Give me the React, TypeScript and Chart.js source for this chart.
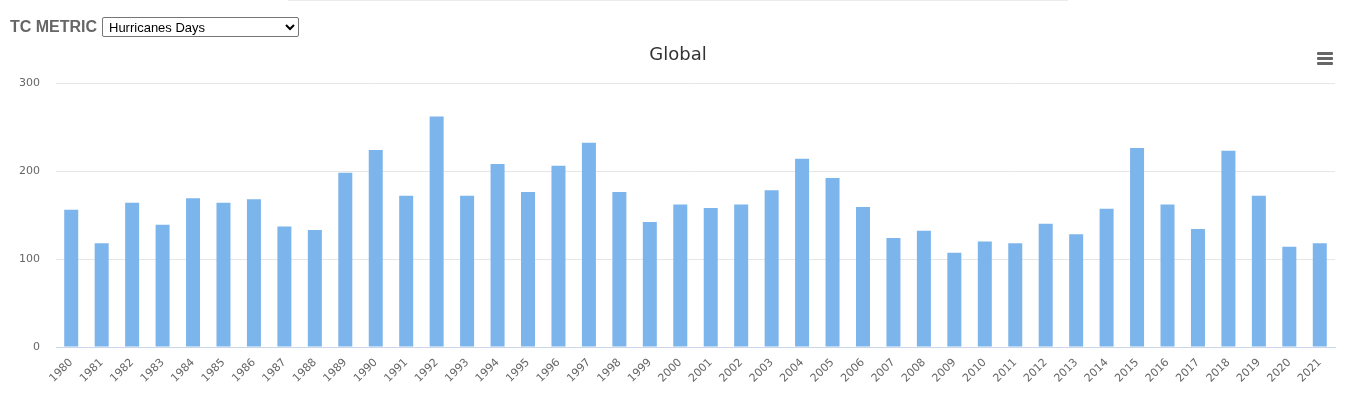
import React, { useEffect, useRef } from "react";
import { Chart, registerables } from "chart.js";

Chart.register(...registerables);

const years: string[] = [
  "1980","1981","1982","1983","1984","1985","1986","1987","1988","1989",
  "1990","1991","1992","1993","1994","1995","1996","1997","1998","1999",
  "2000","2001","2002","2003","2004","2005","2006","2007","2008","2009",
  "2010","2011","2012","2013","2014","2015","2016","2017","2018","2019",
  "2020","2021",
];

const hurricaneDays: number[] = [
  156, 118, 164, 139, 169, 164, 168, 137, 133, 198,
  224, 172, 262, 172, 208, 176, 206, 232, 176, 142,
  162, 158, 162, 178, 214, 192, 159, 124, 132, 107,
  120, 118, 140, 128, 157, 226, 162, 134, 223, 172,
  114, 118,
];

const yTicks: number[] = [0, 100, 200, 300];

const chartTitle = "Global";

export default function App() {
  const ref = useRef<HTMLCanvasElement | null>(null);

  useEffect(() => {
    document.body.style.margin = "0";
    const ctx = ref.current!;
    const font = "'DejaVu Sans', Verdana, sans-serif";
    const chart = new Chart(ctx, {
      type: "bar",
      data: {
        labels: years,
        datasets: [
          {
            label: chartTitle,
            data: hurricaneDays,
            backgroundColor: "#7cb5ec",
            borderWidth: 0,
            barPercentage: 0.46,
            categoryPercentage: 1,
          },
        ],
      },
      options: {
        animation: false,
        responsive: false,
        maintainAspectRatio: false,
        layout: { padding: { left: 0, right: 14, top: 83, bottom: 0 } },
        plugins: {
          legend: { display: false },
          tooltip: { enabled: false },
          title: { display: false },
        },
        scales: {
          x: {
            grid: { display: false, drawTicks: false },
            border: { display: true, color: "#ccd6eb", width: 1 },
            ticks: {
              color: "#666666",
              font: { family: font, size: 11 },
              minRotation: 45,
              maxRotation: 45,
              autoSkip: false,
              padding: 9,
            },
            afterFit: (scale: any) => {
              scale.height = 48;
            },
          },
          y: {
            min: 0,
            max: 300,
            afterBuildTicks: (scale: any) => {
              scale.ticks = yTicks.map((v) => ({ value: v }));
            },
            grid: { color: "#e6e6e6", drawTicks: false },
            border: { display: false },
            ticks: {
              color: "#666666",
              font: { family: font, size: 11 },
              padding: 16,
            },
            afterFit: (scale: any) => {
              scale.width = 56;
            },
          },
        },
      },
    });
    return () => chart.destroy();
  }, []);

  return (
    <div style={{ position: "absolute", left: 0, top: 0, width: 1349, height: 395, background: "#fff", overflow: "hidden" }}>
      <div style={{ position: "absolute", left: 288, top: 0, width: 780, height: 1, background: "#ececec" }} />
      <canvas ref={ref} width={1349} height={395} style={{ position: "absolute", left: 0, top: 0, width: 1349, height: 395 }} />
      <div
        style={{
          position: "absolute",
          left: 578,
          top: 43,
          width: 200,
          textAlign: "center",
          fontFamily: "'DejaVu Sans', Verdana, sans-serif",
          fontSize: 18,
          lineHeight: "22px",
          color: "#333",
        }}
      >
        {chartTitle}
      </div>
      <div
        style={{
          position: "absolute",
          left: 10,
          top: 17,
          fontFamily: "Arial, 'Liberation Sans', Helvetica, sans-serif",
          fontWeight: "bold",
          fontSize: 16,
          color: "#666",
          lineHeight: "20px",
        }}
      >
        TC METRIC
      </div>
      <select
        defaultValue="Hurricanes Days"
        style={{
          position: "absolute",
          left: 102,
          top: 17,
          width: 197,
          height: 20,
          fontSize: 13,
          fontFamily: "Arial, 'Liberation Sans', Helvetica, sans-serif",
          color: "#000",
          background: "#fff",
          border: "1px solid #767676",
          borderRadius: 2,
          padding: "0 2px",
        }}
      >
        <option>Hurricanes Days</option>
        <option>Hurricanes</option>
        <option>Named Storms</option>
        <option>Named Storm Days</option>
      </select>
      <div style={{ position: "absolute", left: 1317, top: 52, width: 16, height: 13 }}>
        <div style={{ position: "absolute", left: 0, top: 0, width: 16, height: 3, borderRadius: 1, background: "#666" }} />
        <div style={{ position: "absolute", left: 0, top: 5, width: 16, height: 3, borderRadius: 1, background: "#666" }} />
        <div style={{ position: "absolute", left: 0, top: 10, width: 16, height: 3, borderRadius: 1, background: "#666" }} />
      </div>
    </div>
  );
}
